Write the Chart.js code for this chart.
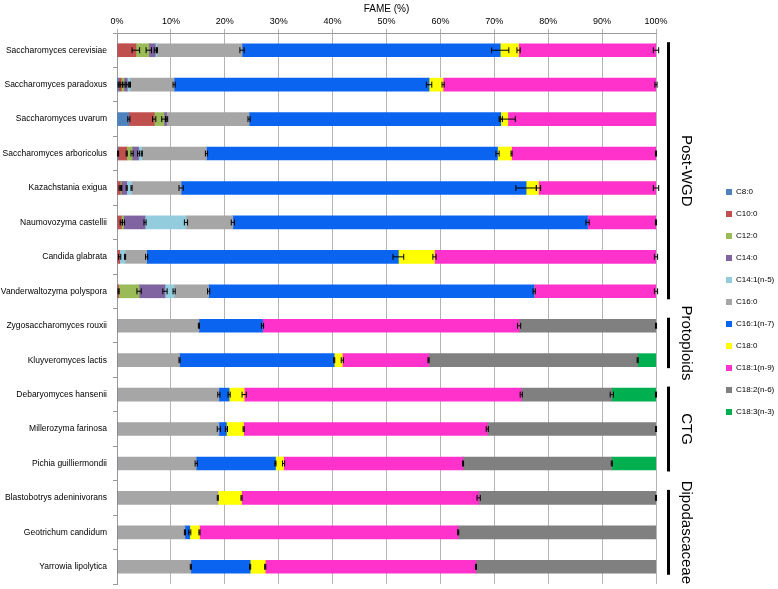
<!DOCTYPE html>
<html>
<head>
<meta charset="utf-8">
<script src="https://cdn.jsdelivr.net/npm/chart.js@4.4.1/dist/chart.umd.min.js"></script>
<style>
  body { margin: 0; background: #fff; }
  canvas { display: block; }
</style>
</head>
<body>
<canvas id="fameChart" width="778" height="589"></canvas>
<script>
// Species (rows, top to bottom)
const species = [
    'Saccharomyces cerevisiae', 'Saccharomyces paradoxus', 'Saccharomyces uvarum',
    'Saccharomyces arboricolus', 'Kazachstania exigua', 'Naumovozyma castellii',
    'Candida glabrata', 'Vanderwaltozyma polyspora', 'Zygosaccharomyces rouxii',
    'Kluyveromyces lactis', 'Debaryomyces hansenii', 'Millerozyma farinosa',
    'Pichia guilliermondii', 'Blastobotrys adeninivorans', 'Geotrichum candidum',
    'Yarrowia lipolytica'
];

const fattyAcids = ['C8:0', 'C10:0', 'C12:0', 'C14:0', 'C14:1(n-5)', 'C16:0',
    'C16:1(n-7)', 'C18:0', 'C18:1(n-9)', 'C18:2(n-6)', 'C18:3(n-3)'];

const colors = ['#4f81bd', '#c0504d', '#9bbb59', '#8064a2', '#93cddd', '#a6a6a6',
    '#0a64f0', '#ffff00', '#ff33cc', '#808080', '#00b050'];

// FAME percentages per fatty acid
const c8_0   = [0, 0.3, 2.2, 0.2, 0, 0, 0, 0, 0, 0, 0, 0, 0, 0, 0, 0];
const c10_0  = [3.5, 0.5, 4.7, 1.6, 0.6, 0.8, 0.5, 0.3, 0, 0, 0, 0, 0, 0, 0, 0];
const c12_0  = [2.4, 0.5, 1.8, 1.0, 0.2, 0.4, 0, 3.8, 0, 0, 0, 0, 0, 0, 0, 0];
const c14_0  = [1.2, 0.6, 0.5, 1.2, 1.0, 4.0, 0, 4.8, 0, 0, 0, 0, 0, 0, 0, 0];
const c14_1  = [0.3, 0.5, 0, 0.6, 0.9, 7.6, 1.0, 1.7, 0, 0, 0, 0, 0, 0, 0, 0];
const c16_0  = [15.8, 8.2, 15.3, 12.0, 9.2, 8.7, 4.0, 6.4, 15.2, 11.6, 18.9, 18.9, 14.7, 18.7, 12.6, 13.7];
const c16_1  = [47.9, 47.3, 46.7, 54.0, 64.0, 65.8, 46.7, 60.4, 11.8, 28.7, 1.9, 1.4, 14.7, 0, 0.9, 11.0];
const c18_0  = [3.4, 2.6, 1.3, 2.6, 2.3, 0, 6.7, 0, 0, 1.5, 2.8, 3.2, 1.5, 4.4, 1.8, 2.8];
const c18_1  = [25.5, 39.5, 27.5, 26.8, 21.8, 12.7, 41.1, 22.6, 47.6, 16.0, 51.4, 45.2, 33.3, 44.0, 48.0, 39.1];
const c18_2  = [0, 0, 0, 0, 0, 0, 0, 0, 25.4, 38.8, 16.8, 31.3, 27.6, 32.9, 36.7, 33.4];
const c18_3  = [0, 0, 0, 0, 0, 0, 0, 0, 0, 3.4, 8.2, 0, 8.2, 0, 0, 0];

// Standard deviations (error bars)
const c8_0Err  = [0, 0.1, 0.2, 0.1, 0, 0, 0, 0, 0, 0, 0, 0, 0, 0, 0, 0];
const c10_0Err = [0.7, 0.2, 0.3, 0.1, 0.2, 0.2, 0.2, 0.1, 0, 0, 0, 0, 0, 0, 0, 0];
const c12_0Err = [0.5, 0.2, 0.4, 0.2, 0.1, 0.2, 0, 0.4, 0, 0, 0, 0, 0, 0, 0, 0];
const c14_0Err = [0.2, 0.2, 0.2, 0.2, 0.1, 0.2, 0, 0.4, 0, 0, 0, 0, 0, 0, 0, 0];
const c14_1Err = [0.1, 0.1, 0, 0.1, 0.1, 0.3, 0.1, 0.2, 0, 0, 0, 0, 0, 0, 0, 0];
const c16_0Err = [0.4, 0.2, 0.2, 0.2, 0.4, 0.3, 0.2, 0.2, 0.1, 0.1, 0.2, 0.3, 0.2, 0.1, 0.1, 0.1];
const c16_1Err = [1.6, 0.5, 0.3, 0.3, 1.9, 0.3, 1.0, 0.2, 0.2, 0.1, 0.2, 0.2, 0.1, 0, 0.2, 0.1];
const c18_0Err = [0.3, 0.2, 1.4, 0.1, 0.4, 0, 0.3, 0, 0, 0.2, 0.4, 0.1, 0.2, 0.1, 0.1, 0.1];
const c18_1Err = [0.5, 0.2, 0, 0.1, 0.5, 0.1, 0.3, 0.3, 0.3, 0.1, 0.2, 0.2, 0.1, 0.3, 0.1, 0.1];
const c18_2Err = [0, 0, 0, 0, 0, 0, 0, 0, 0.1, 0.1, 0.3, 0.1, 0.1, 0.1, 0, 0];
const c18_3Err = [0, 0, 0, 0, 0, 0, 0, 0, 0, 0, 0.1, 0, 0, 0, 0, 0];

const seriesValues = [c8_0, c10_0, c12_0, c14_0, c14_1, c16_0, c16_1, c18_0, c18_1, c18_2, c18_3];
const seriesErrors = [c8_0Err, c10_0Err, c12_0Err, c14_0Err, c14_1Err, c16_0Err,
    c16_1Err, c18_0Err, c18_1Err, c18_2Err, c18_3Err];

// Clade brackets on the right
const groupNames = ['Post-WGD', 'Protoploids', 'CTG', 'Dipodascaceae'];
const groupFirst = [0, 8, 10, 13];
const groupLast  = [7, 9, 12, 15];

const FONT = "Arial, 'Liberation Sans', sans-serif";

// draw whiskers at the end of each stacked segment
const errorBars = {
    id: 'errorBars',
    afterDatasetsDraw(chart) {
        const ctx = chart.ctx;
        const xs = chart.scales.x;
        const unit = xs.getPixelForValue(1) - xs.getPixelForValue(0);
        ctx.save();
        ctx.strokeStyle = '#000';
        ctx.lineWidth = 1;
        seriesValues.forEach((vals, i) => {
            const meta = chart.getDatasetMeta(i);
            vals.forEach((v, j) => {
                const e = seriesErrors[i][j];
                if (!v || !e) return;
                const bar = meta.data[j];
                const x0 = bar.x - e * unit, x1 = bar.x + e * unit, y = bar.y;
                ctx.beginPath();
                ctx.moveTo(x0, y); ctx.lineTo(x1, y);
                ctx.moveTo(x0, y - 3); ctx.lineTo(x0, y + 3);
                ctx.moveTo(x1, y - 3); ctx.lineTo(x1, y + 3);
                ctx.stroke();
            });
        });
        ctx.restore();
    }
};

// clade brackets + legend
const sideNotes = {
    id: 'sideNotes',
    afterDraw(chart) {
        const ctx = chart.ctx;
        const ys = chart.scales.y;
        ctx.save();
        groupNames.forEach((name, g) => {
            const top = ys.getPixelForValue(groupFirst[g]) - 8;
            const bottom = ys.getPixelForValue(groupLast[g]) + 8;
            ctx.fillStyle = '#000';
            ctx.fillRect(667, top, 3, bottom - top);
            ctx.save();
            ctx.translate(686, (top + bottom) / 2);
            ctx.rotate(Math.PI / 2);
            ctx.font = '15px ' + FONT;
            ctx.textAlign = 'center';
            ctx.textBaseline = 'middle';
            ctx.fillText(name, 0, 0);
            ctx.restore();
        });

        ctx.font = '8px ' + FONT;
        ctx.textBaseline = 'middle';
        ctx.textAlign = 'left';
        fattyAcids.forEach((name, i) => {
            const y = 192 + i * 22;
            ctx.fillStyle = colors[i];
            ctx.fillRect(726, y - 3, 6, 6);
            ctx.fillStyle = '#000';
            ctx.fillText(name, 736, y);
        });
        ctx.restore();
    }
};

new Chart(document.getElementById('fameChart'), {
    type: 'bar',
    data: {
        labels: species,
        datasets: fattyAcids.map((name, i) => ({
            label: name,
            data: seriesValues[i],
            backgroundColor: colors[i],
            borderWidth: 0,
            barThickness: 13
        }))
    },
    options: {
        indexAxis: 'y',
        responsive: false,
        animation: false,
        layout: { padding: { left: 0, right: 122, top: 0, bottom: 5 } },
        plugins: {
            legend: { display: false },
            tooltip: { enabled: false }
        },
        scales: {
            x: {
                position: 'top',
                stacked: true,
                min: 0,
                max: 100,
                ticks: {
                    stepSize: 10,
                    callback: v => v + '%',
                    font: { family: FONT, size: 9 },
                    color: '#000',
                    padding: 2
                },
                grid: { color: '#b4b4b4', tickLength: 4 },
                border: { color: '#999' },
                title: {
                    display: true,
                    text: 'FAME (%)',
                    font: { family: FONT, size: 10 },
                    color: '#000',
                    padding: { top: 3, bottom: 0 }
                },
                afterFit(scale) { scale.height = 33; }
            },
            y: {
                stacked: true,
                ticks: {
                    font: { family: FONT, size: 8.5 },
                    color: '#000',
                    padding: 6
                },
                grid: { drawOnChartArea: false, offset: true, tickLength: 4, color: '#999' },
                border: { color: '#999' },
                afterFit(scale) {
                    scale.width = 117;
                    scale.paddingTop = 0;
                    scale.paddingBottom = 0;
                }
            }
        }
    },
    plugins: [errorBars, sideNotes]
});
</script>
</body>
</html>
